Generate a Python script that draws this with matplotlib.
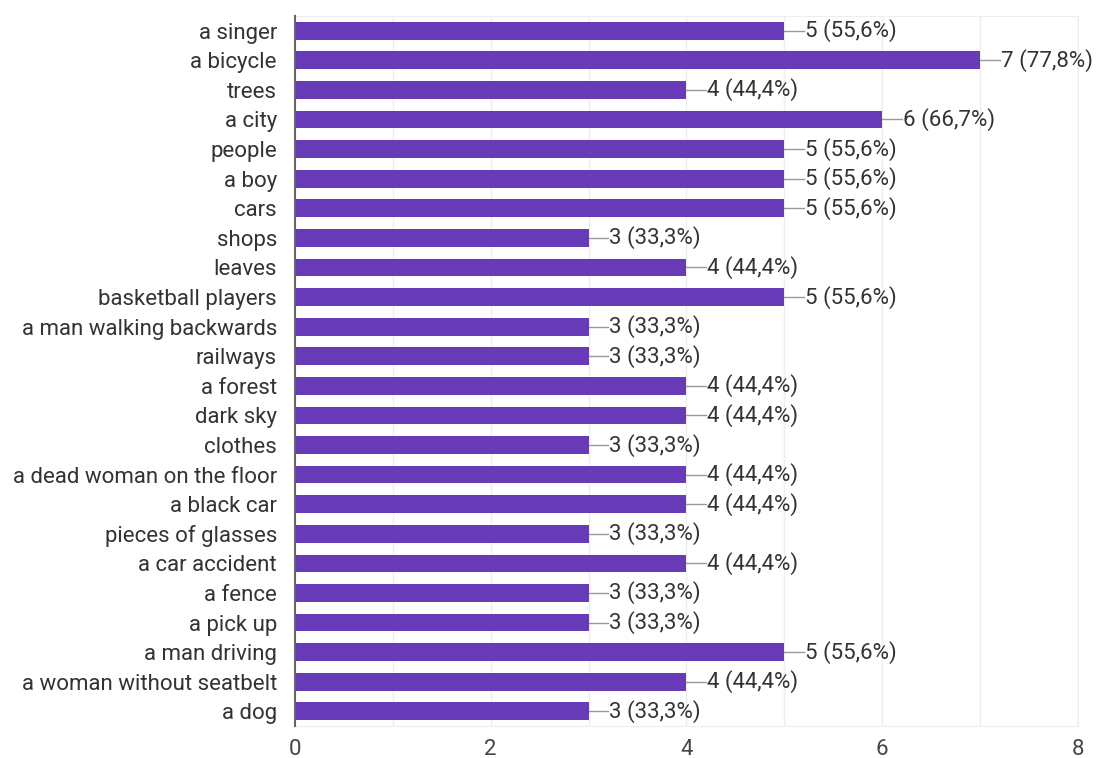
import matplotlib.pyplot as plt

plt.rcParams['font.family'] = ['Roboto', 'DejaVu Sans']

labels = ['a singer', 'a bicycle', 'trees', 'a city', 'people', 'a boy', 'cars',
          'shops', 'leaves', 'basketball players', 'a man walking backwards',
          'railways', 'a forest', 'dark sky', 'clothes',
          'a dead woman on the floor', 'a black car', 'pieces of glasses',
          'a car accident', 'a fence', 'a pick up', 'a man driving',
          'a woman without seatbelt', 'a dog']
counts = [5, 7, 4, 6, 5, 5, 5, 3, 4, 5, 3, 3, 4, 4, 3, 4, 4, 3, 4, 3, 3, 5, 4, 3]
respondents = 9

purple = '#673ab7'
text_col = '#333333'

fig = plt.figure(figsize=(11.02, 7.58), dpi=100)
ax = fig.add_axes([0.2677, 0.042, 0.7105, 0.937])

pos = list(range(len(labels)))
ax.barh(pos, counts, height=0.6, color=purple, zorder=3)

# value labels with a short leader line
for i, c in zip(pos, counts):
    ax.plot([c, c + 0.2], [i, i], color='#999999', linewidth=1, zorder=2)
    pct = f'{c / respondents * 100:.1f}'.replace('.', ',')
    ax.text(c + 0.21, i, f'{c} ({pct}%)', va='center', ha='left',
            fontsize=16, color=text_col)

ax.set_xlim(0, 8)
ax.set_ylim(len(labels) - 0.5, -0.5)
ax.set_yticks(pos)
ax.set_yticklabels(labels, fontsize=16, color=text_col)
ax.set_xticks([0, 2, 4, 6, 8])
ax.set_xticklabels(['0', '2', '4', '6', '8'], fontsize=16, color='#444444')
ax.set_xticks([1, 3, 5, 7], minor=True)
ax.tick_params(axis='both', which='both', length=0)
ax.tick_params(axis='y', pad=13)
ax.tick_params(axis='x', pad=9)
ax.grid(axis='x', which='both', color='#eeeeee', linewidth=1, zorder=0)

for s in ['top', 'right', 'bottom']:
    ax.spines[s].set_color('#eeeeee')
ax.spines['left'].set_color('#666666')
ax.spines['left'].set_linewidth(1.5)
ax.spines['left'].set_zorder(4)

fig.savefig('out.png', dpi=100)
